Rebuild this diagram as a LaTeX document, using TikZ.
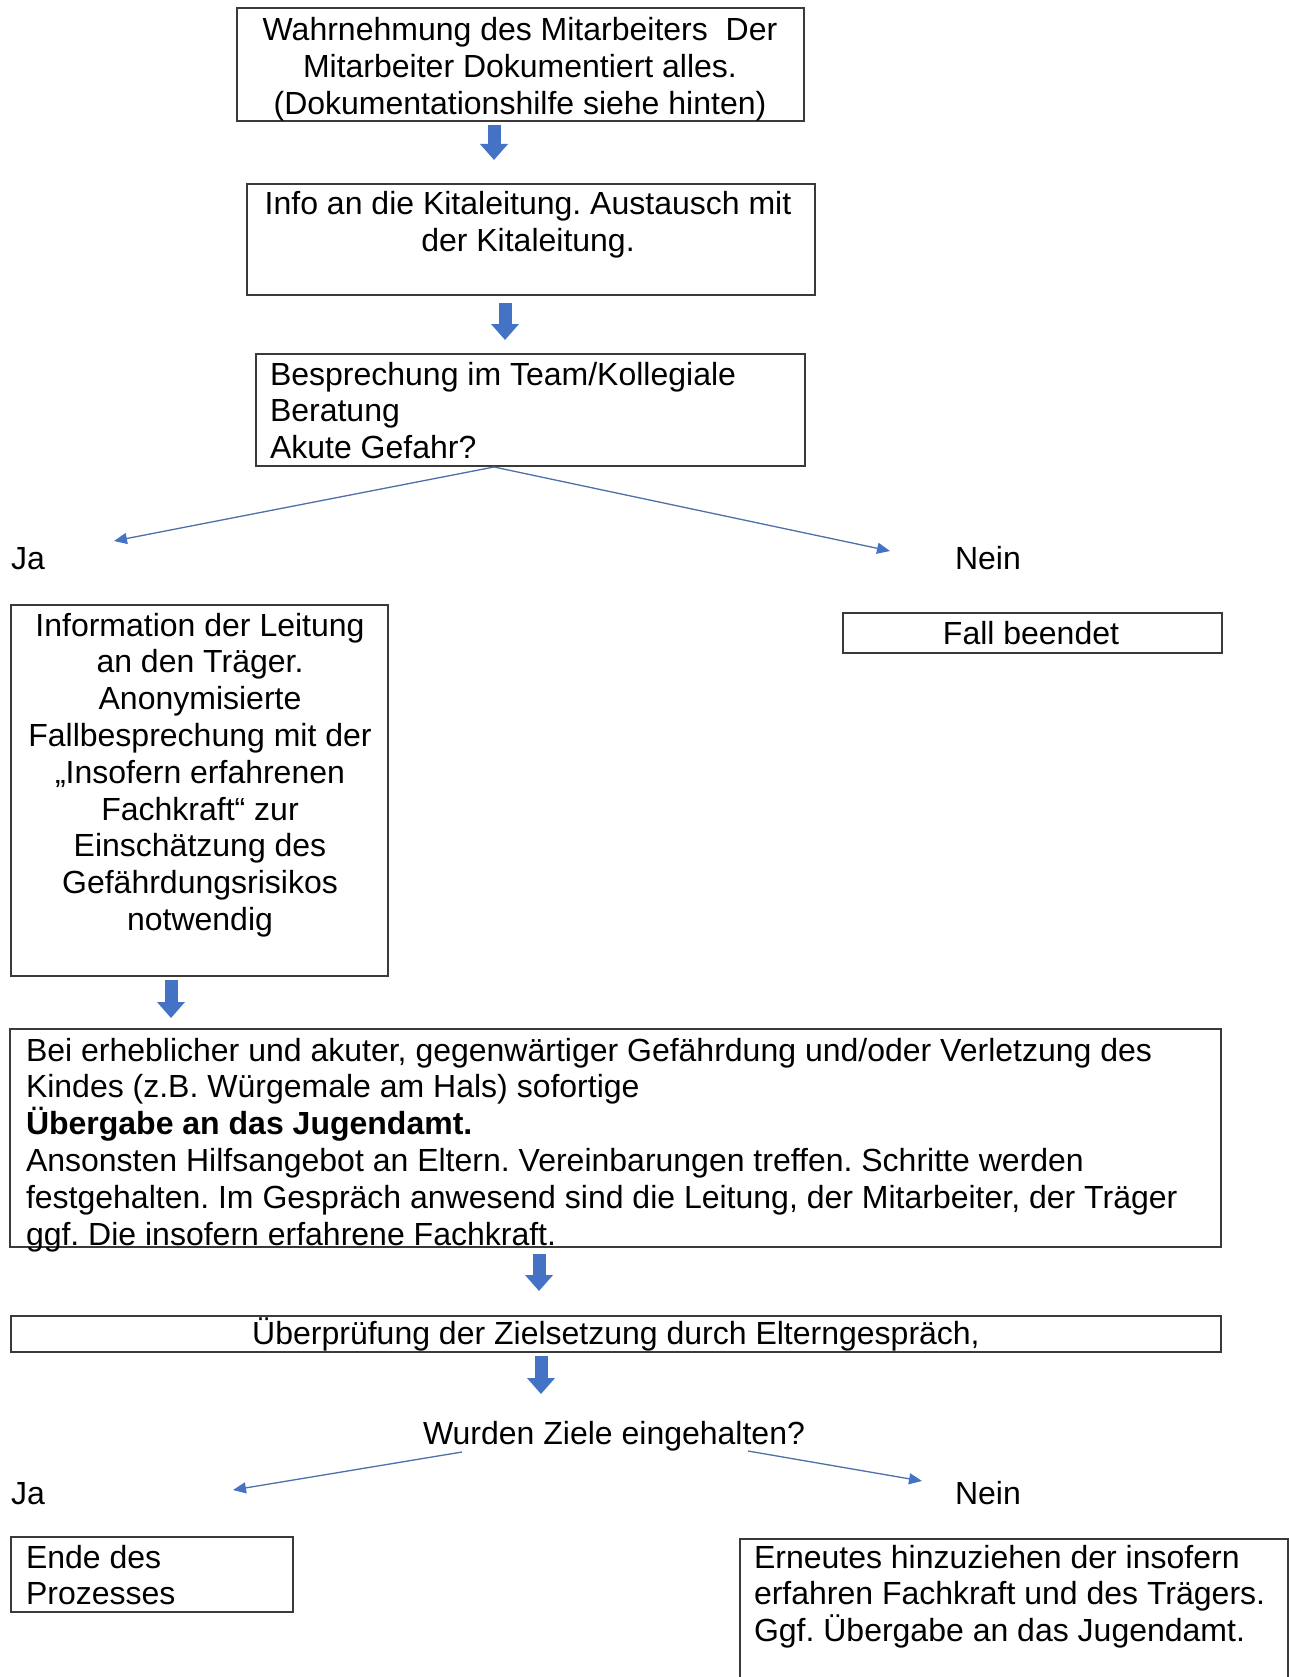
\documentclass[tikz,border=0pt]{standalone}
\usepackage{fontspec}
\setmainfont{Liberation Sans}
\usetikzlibrary{arrows.meta}
\definecolor{blu}{HTML}{4472C4}
\definecolor{thinblu}{HTML}{4F6FA8}
\definecolor{edge}{HTML}{3A3A3A}
\newcommand\st{\rule{0pt}{30pt}}
\frenchspacing
\tikzset{
  boxst/.style={draw=edge, line width=1.3pt, anchor=north west, inner sep=0pt, outer sep=0pt},
  txt/.style={inner sep=0pt, outer sep=0pt, font=\fontsize{32}{36.8}\selectfont},
  blk/.style={blu, line width=13pt, -{Triangle[length=16pt,width=27pt]}},
  thin/.style={thinblu, line width=1.3pt, -{Triangle[length=13pt,width=11pt,color=blu]}}
}
\begin{document}
\begin{tikzpicture}[x=1pt,y=-1pt]
\path[use as bounding box] (0,0) rectangle (1289,1677);
\clip (0,0) rectangle (1289,1677);
\fill[white] (0,0) rectangle (1289,1677);

% boxes
\node[boxst, minimum width=567pt, minimum height=113pt] (b1) at (237,8) {};
\node[boxst, minimum width=568pt, minimum height=111pt] (b2) at (247,184) {};
\node[boxst, minimum width=549pt, minimum height=112pt] (b3) at (256,354) {};
\node[boxst, minimum width=377pt, minimum height=371pt] (b4) at (11,605) {};
\node[boxst, minimum width=379pt, minimum height=40pt] (b5) at (843,613) {};
\node[boxst, minimum width=1211pt, minimum height=218pt] (b6) at (10,1029) {};
\node[boxst, minimum width=1210pt, minimum height=36pt] (b7) at (11,1316) {};
\node[boxst, minimum width=282pt, minimum height=75pt] (b8) at (11,1537) {};
\node[boxst, minimum width=548pt, minimum height=170pt] (b9) at (740,1539) {};

% texts
\node[txt, anchor=north, align=center] (t1) at (520,11) {\st Wahrnehmung des Mitarbeiters~ Der\\Mitarbeiter Dokumentiert alles.\\(Dokumentationshilfe siehe hinten)};
\node[txt, anchor=north, align=center] (t2) at (528,185) {\st Info an die Kitaleitung. Austausch mit\\der Kitaleitung.};
\node[txt, anchor=north west, align=left] (t3) at (270,355) {\st Besprechung im Team/Kollegiale\\Beratung\\Akute Gefahr?};
\node[txt, anchor=base west] (ja1) at (11,569) {Ja};
\node[txt, anchor=base west] (nein1) at (955,569) {Nein};
\node[txt, anchor=north, align=center] (t4) at (200,606) {\st Information der Leitung\\an den Träger.\\Anonymisierte\\Fallbesprechung mit der\\„Insofern erfahrenen\\Fachkraft“ zur\\Einschätzung des\\Gefährdungsrisikos\\notwendig};
\node[txt, anchor=base] (t5) at (1031,644) {Fall beendet};
\node[txt, anchor=north west, align=left] (t6) at (26,1031) {\st Bei erheblicher und akuter, gegenwärtiger Gefährdung und/oder Verletzung des\\Kindes (z.B. Würgemale am Hals) sofortige\\\textbf{Übergabe an das Jugendamt.}\\Ansonsten Hilfsangebot an Eltern. Vereinbarungen treffen. Schritte werden\\festgehalten. Im Gespräch anwesend sind die Leitung, der Mitarbeiter, der Träger\\ggf. Die insofern erfahrene Fachkraft.};
\node[txt, anchor=base] (t7) at (616,1344) {Überprüfung der Zielsetzung durch Elterngespräch,};
\node[txt, anchor=base] (q2) at (614,1444) {Wurden Ziele eingehalten?};
\node[txt, anchor=base west] (ja2) at (11,1504) {Ja};
\node[txt, anchor=base west] (nein2) at (955,1504) {Nein};
\node[txt, anchor=north west, align=left] (t8) at (26,1538) {\st Ende des\\Prozesses};
\node[txt, anchor=north west, align=left] (t9) at (754,1538) {\st Erneutes hinzuziehen der insofern\\erfahren Fachkraft und des Trägers.\\Ggf. Übergabe an das Jugendamt.};

% block arrows
\coordinate (a1s) at (494,125); \coordinate (a1e) at (494,160);
\coordinate (a2s) at (505,303); \coordinate (a2e) at (505,340);
\coordinate (a3s) at (171,980); \coordinate (a3e) at (171,1018);
\coordinate (a4s) at (539,1254); \coordinate (a4e) at (539,1291);
\coordinate (a5s) at (541,1356); \coordinate (a5e) at (541,1394);
\draw[blk] (a1s) -- (a1e);
\draw[blk] (a2s) -- (a2e);
\draw[blk] (a3s) -- (a3e);
\draw[blk] (a4s) -- (a4e);
\draw[blk] (a5s) -- (a5e);

% thin arrows
\coordinate (s1) at (494,467);
\coordinate (e1) at (114,541);
\coordinate (e2) at (890,551);
\draw[thin] (s1) -- (e1);
\draw[thin] (s1) -- (e2);
\coordinate (s3) at (462,1452);
\coordinate (e3) at (233,1490);
\coordinate (s4) at (748,1451);
\coordinate (e4) at (922,1481);
\draw[thin] (s3) -- (e3);
\draw[thin] (s4) -- (e4);
\end{tikzpicture}
\end{document}
